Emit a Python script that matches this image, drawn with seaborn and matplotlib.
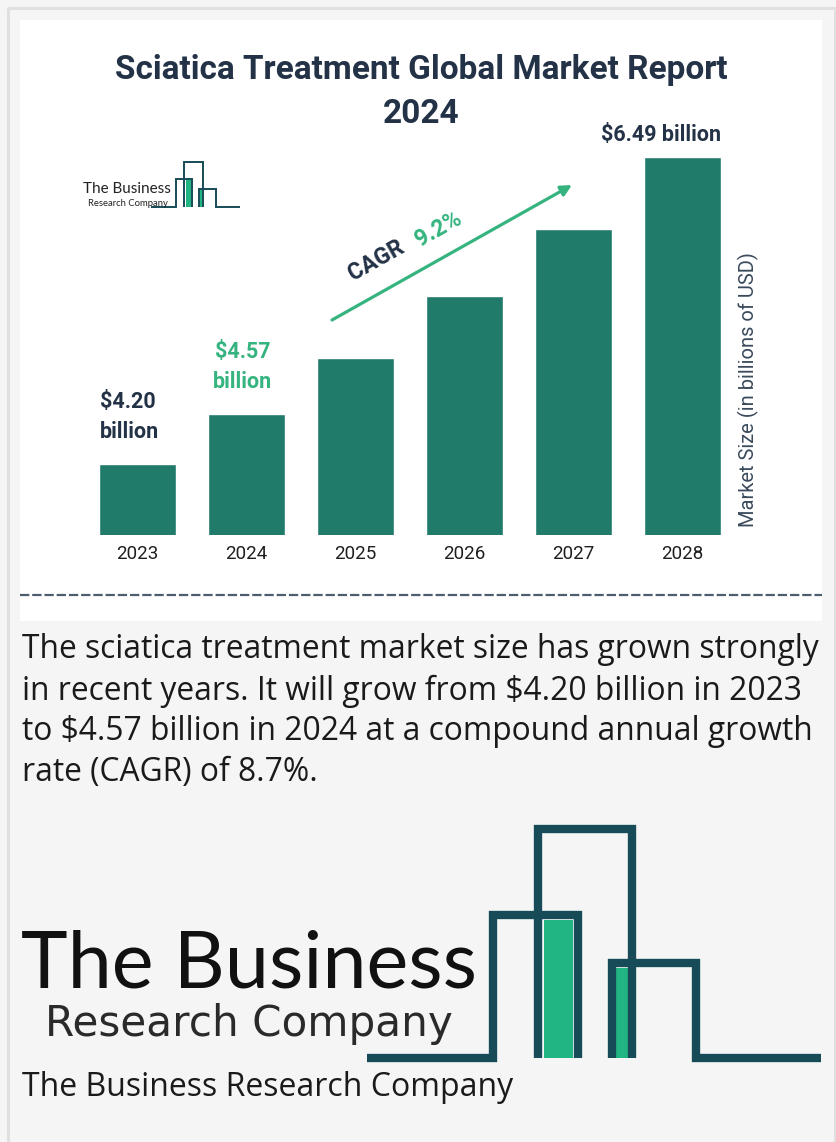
import numpy as np
import pandas as pd
import matplotlib
matplotlib.use("Agg")
import matplotlib.pyplot as plt
import seaborn as sns
from matplotlib.patches import Rectangle

# data (2025-2027 unlabeled, estimated)
years = ["2023", "2024", "2025", "2026", "2027", "2028"]
market_size = [4.20, 4.57, 4.99, 5.45, 5.95, 6.49]
cagr_text = "9.2%"
title = "Sciatica Treatment Global Market Report\n2024"
y_label = "Market Size (in billions of USD)"
body_lines = [
    "The sciatica treatment market size has grown strongly",
    "in recent years. It will grow from $4.20 billion in 2023",
    "to $4.57 billion in 2024 at a compound annual growth",
    "rate (CAGR) of 8.7%.",
]
caption = "The Business Research Company"

W, H = 836, 1142
BAR = "#217b6b"
GREEN = "#35b47f"
NAVY = "#233246"
LOGO_LINE = "#174b57"
LOGO_FILL = "#22b584"

sns.set_theme(style="white")
plt.rcParams['font.family'] = ['Roboto', 'DejaVu Sans']

fig = plt.figure(figsize=(W / 100, H / 100), dpi=100)
fig.patch.set_facecolor("#f5f5f5")

# overlay in pixel coords (y down) for the card, logos and text
bg = fig.add_axes([0, 0, 1, 1])
bg.set_xlim(0, W)
bg.set_ylim(H, 0)
bg.axis("off")
bg.add_patch(Rectangle((7.5, 7.5), 827, 1140, fill=False, ec="#e0e0e0", lw=2.2))
bg.add_patch(Rectangle((20, 20), 802, 601, fc="white", ec="none"))
bg.plot([20, 822], [595, 595], ls=(0, (4.2, 1.3)), color="#4d5d6e", lw=1.6)


def draw_logo(ax, x0, y0, s, lw):
    # outline shape, defined relative to the baseline-left point
    pts = lambda seq: ([x0 + s * p[0] for p in seq], [y0 - s * p[1] for p in seq])
    fills = [(177, 0, 29, 138), (249, 0, 12, 90)]
    for fx, fy, fw, fh in fills:
        ax.add_patch(Rectangle((x0 + s * fx, y0 - s * (fy + fh)), s * fw, s * fh,
                               fc=LOGO_FILL, ec="none"))
    paths = [
        [(0, 0), (126, 0), (126, 143), (211, 143), (211, 0)],
        [(171, 0), (171, 229), (265, 229), (265, 0)],
        [(245, 0), (245, 95), (329, 95), (329, 0), (454, 0)],
    ]
    for p in paths:
        xs, ys = pts(p)
        ax.plot(xs, ys, color=LOGO_LINE, lw=lw, solid_joinstyle="miter",
                solid_capstyle="butt")


# bar chart
ax = fig.add_axes([83 / W, (H - 535) / H, (737 - 83) / W, (535 - 100) / H])
ax.set_facecolor("none")
df = pd.DataFrame({"year": years, "size": market_size})
sns.barplot(data=df, x="year", y="size", color=BAR, saturation=1, width=0.706, ax=ax)
base = 3.667
ax.set_ylim(base, base + 435 / 134.05)
ax.set_xlim(-0.5, 5.5)
sns.despine(ax=ax, left=True, bottom=True)
ax.set_yticks([])
ax.set_xlabel("")
ax.set_ylabel("")
ax.tick_params(axis="x", length=0, pad=7, labelsize=13.5, labelcolor="#1f1f1f")

half = 0.706 / 2
lbl = dict(fontsize=15.5, fontweight="bold", textcoords="offset pixels",
           va="center", annotation_clip=False)
v0 = market_size[0]
ax.annotate(f"${v0:.2f}", (0 - half, v0), (1, 62), ha="left", color=NAVY, **lbl)
ax.annotate("billion", (0 - half, v0), (1, 32), ha="left", color=NAVY, **lbl)
v1 = market_size[1]
ax.annotate(f"${v1:.2f}", (1, v1), (-4, 62), ha="center", color=GREEN, **lbl)
ax.annotate("billion", (1, v1), (-4, 32), ha="center", color=GREEN, **lbl)
v5 = market_size[5]
ax.annotate(f"${v5:.2f} billion", (5 + half, v5), (0, 22), ha="right", color=NAVY, **lbl)

# title and axis label
bg.text(421, 70, title.split("\n")[0], ha="center", va="center", fontsize=24,
        fontweight="bold", color=NAVY)
bg.text(421, 114, title.split("\n")[1], ha="center", va="center", fontsize=24,
        fontweight="bold", color=NAVY)
bg.text(748, 390, y_label, rotation=90, ha="center", va="center", fontsize=14.5,
        color="#3a4a5c")

# CAGR arrow
bg.annotate("", xy=(572, 185), xytext=(332, 320),
            arrowprops=dict(arrowstyle="-|>", color=GREEN, lw=2.3, mutation_scale=16,
                            shrinkA=0, shrinkB=0))
bg.text(376, 260, "CAGR", rotation=29.4, ha="center", va="center", fontsize=16.5,
        fontweight="bold", color=NAVY, rotation_mode="anchor")
bg.text(438, 229, cagr_text, rotation=29.4, ha="center", va="center", fontsize=16.5,
        fontweight="bold", color=GREEN, rotation_mode="anchor")

# small logo
draw_logo(bg, 150.7, 207.3, 0.197, 1.4)
bg.text(83, 189, "The Business", ha="left", va="center", fontsize=11,
        color="#222222", family=["Lato", "DejaVu Sans"])
bg.text(88, 203, "Research Company", ha="left", va="center", fontsize=6.8,
        color="#222222", family=["Lato", "DejaVu Sans"])

# body text
for i, line in enumerate(body_lines):
    bg.text(22, 650 + 41 * i, line, ha="left", va="center", fontsize=22.9,
            color="#1a1a1a", family=["Open Sans", "DejaVu Sans"])

# big logo
draw_logo(bg, 367, 1058, 1.0, 6.0)
bg.text(21, 966, "The Business", ha="left", va="center", fontsize=57,
        color="#111111", family=["Lato", "DejaVu Sans"])
bg.text(45, 1024, "Research Company", ha="left", va="center", fontsize=30.3,
        color="#2a2a2a", family=["DejaVu Sans"])
bg.text(22, 1088, caption, ha="left", va="center", fontsize=23,
        color="#1a1a1a", family=["Open Sans", "DejaVu Sans"])

fig.savefig("out.png", dpi=100, facecolor=fig.get_facecolor())
